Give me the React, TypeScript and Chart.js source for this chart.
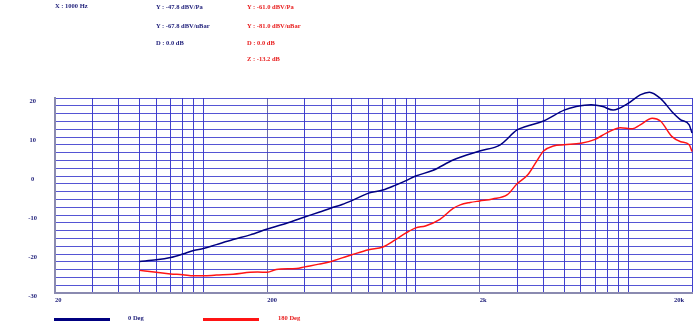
import React, { useEffect, useRef } from 'react';
import { Chart, registerables } from 'chart.js';

Chart.register(...registerables);

// ---- data ----
const FREQ_0 = [50, 60, 70, 80, 90, 100, 115, 138, 166, 200, 250, 300, 350, 400, 450, 500, 600, 700, 800, 900, 1000, 1200, 1500, 1620, 2000, 2500, 3000, 3300, 4000, 5000, 5700, 6700, 7600, 8500, 10000, 11400, 12600, 14200, 16100, 17700, 19400, 20000];
const DB_0 = [-21.9, -21.5, -20.9, -20.0, -19.1, -18.6, -17.6, -16.3, -15.1, -13.6, -12.0, -10.5, -9.3, -8.2, -7.3, -6.3, -4.4, -3.6, -2.4, -1.2, 0.0, 1.4, 4.1, 4.8, 6.4, 8.0, 11.8, 12.7, 14.1, 16.9, 17.8, 18.3, 17.8, 16.9, 18.6, 20.8, 21.5, 19.9, 16.5, 14.4, 13.1, 11.0];

const FREQ_180 = [50, 60, 70, 80, 90, 100, 115, 138, 166, 180, 200, 220, 275, 300, 350, 400, 450, 500, 600, 700, 800, 900, 1000, 1110, 1300, 1500, 1620, 1800, 2000, 2300, 2700, 3000, 3370, 3700, 4000, 4450, 5000, 6000, 7000, 7900, 9200, 10500, 11400, 13000, 14200, 16100, 17700, 19400, 20000];
const DB_180 = [-24.2, -24.7, -25.1, -25.3, -25.6, -25.6, -25.4, -25.2, -24.7, -24.6, -24.7, -24.0, -23.7, -23.3, -22.6, -21.9, -21.0, -20.2, -18.9, -18.2, -16.4, -14.6, -13.3, -12.8, -11.1, -8.3, -7.4, -6.8, -6.4, -5.9, -4.8, -2.0, 0.3, 3.7, 6.4, 7.7, 8.0, 8.4, 9.4, 11.0, 12.4, 12.1, 13.1, 14.8, 14.1, 10.1, 8.8, 8.0, 6.3];

const SERIES_NAMES = ['0 Deg', '180 Deg'];

const X_GRID = [20, 30, 40, 50, 60, 70, 80, 90, 100, 200, 300, 400, 500, 600, 700, 800, 900, 1000, 2000, 3000, 4000, 5000, 6000, 7000, 8000, 9000, 10000, 20000];
const X_LABEL_VALUES = [20, 200, 2000, 20000];
const X_LABEL_TEXT = ['20', '200', '2k', '20k'];
const X_DECADE_LINES = [200, 2000];

const Y_MIN = -30;
const Y_MAX = 20;
const Y_STEP = 2;
const Y_LABEL_EVERY = 10;

const CURSOR_X = ['X : 1000 Hz'];
const CURSOR_0 = ['Y : -47.8 dBV/Pa', 'Y : -67.8 dBV/uBar', 'D : 0.0 dB'];
const CURSOR_180 = ['Y : -61.0 dBV/Pa', 'Y : -81.0 dBV/uBar', 'D : 0.0 dB', 'Z : -13.2 dB'];

const BLUE = '#000080';
const RED = '#ff1414';
const TEXT_BLUE = '#1c1c78';
const TEXT_RED = '#e81c1c';
const FONT = '"Liberation Serif", "Times New Roman", serif';

const lastLabelRight = {
  id: 'lastLabelRight',
  beforeDraw(chart: any) {
    const s = chart.scales.x;
    const items = s.getLabelItems();
    items.forEach((it: any) => {
      if (it.label === X_LABEL_TEXT[X_LABEL_TEXT.length - 1]) {
        it.options.textAlign = 'right';
        it.options.translation = [s.right - 8, it.options.translation[1]];
      }
    });
  },
};

function TextLine(props: { x: number; cy: number; color: string; text: string }) {
  return (
    <div
      style={{
        position: 'absolute',
        left: props.x,
        top: props.cy - 4,
        height: 8,
        lineHeight: '8px',
        fontSize: 6.5,
        fontWeight: 'bold',
        fontFamily: FONT,
        color: props.color,
        whiteSpace: 'nowrap',
      }}
    >
      {props.text}
    </div>
  );
}

export default function App() {
  const ref = useRef<HTMLCanvasElement | null>(null);

  useEffect(() => {
    if (!ref.current) return;
    const tickFont = { family: FONT, size: 6.5, weight: 'bold' as const };
    const chart = new Chart(ref.current, {
      type: 'line',
      data: {
        datasets: [
          {
            label: SERIES_NAMES[0],
            data: FREQ_0.map((f, i) => ({ x: f, y: DB_0[i] })),
            borderColor: BLUE,
            borderWidth: 1.5,
            pointRadius: 0,
            cubicInterpolationMode: 'monotone',
            clip: false as any,
          },
          {
            label: SERIES_NAMES[1],
            data: FREQ_180.map((f, i) => ({ x: f, y: DB_180[i] })),
            borderColor: RED,
            borderWidth: 1.5,
            pointRadius: 0,
            cubicInterpolationMode: 'monotone',
            clip: false as any,
          },
        ],
      },
      options: {
        animation: false,
        responsive: false,
        events: [],
        layout: { padding: { left: 0, top: 98, right: 8, bottom: 0 } },
        plugins: { legend: { display: false }, tooltip: { enabled: false } },
        scales: {
          x: {
            type: 'logarithmic',
            min: X_GRID[0],
            max: X_GRID[X_GRID.length - 1],
            afterBuildTicks: (s: any) => {
              s.ticks = X_GRID.map((v) => ({ value: v }));
            },
            afterFit: (s: any) => {
              s.height = 40;
              s.paddingLeft = 0;
              s.paddingRight = 0;
            },
            grid: {
              drawTicks: false,
              color: (c: any) => (X_DECADE_LINES.includes(c.tick?.value) ? '#6c6ca8' : 'rgba(45,45,200,0.9)'),
              lineWidth: 1,
            },
            border: { color: '#8a8ab0', width: 2 },
            ticks: {
              autoSkip: false,
              maxRotation: 0,
              align: 'start',
              padding: 3,
              color: TEXT_BLUE,
              font: tickFont,
              callback: (v: any) => {
                const idx = X_LABEL_VALUES.indexOf(Number(v));
                return idx >= 0 ? X_LABEL_TEXT[idx] : '';
              },
            },
          },
          y: {
            type: 'linear',
            min: Y_MIN,
            max: Y_MAX,
            afterFit: (s: any) => {
              s.width = 55;
              s.paddingTop = 0;
              s.paddingBottom = 0;
            },
            grid: { drawTicks: false, color: 'rgba(55,55,205,0.85)', lineWidth: 1 },
            border: { color: '#8a8ab0', width: 2 },
            ticks: {
              stepSize: Y_STEP,
              autoSkip: false,
              crossAlign: 'center',
              padding: 18,
              labelOffset: 3,
              color: TEXT_BLUE,
              font: tickFont,
              callback: (v: any) => (Number(v) % Y_LABEL_EVERY === 0 ? String(v) : ''),
            },
          },
        },
      } as any,
      plugins: [lastLabelRight],
    });
    return () => chart.destroy();
  }, []);

  return (
    <div style={{ position: 'fixed', left: 0, top: 0, width: 700, height: 333, background: '#fff' }}>
      <canvas ref={ref} width={700} height={333} style={{ position: 'absolute', left: 0, top: 0 }} />
      <TextLine x={55} cy={6} color={TEXT_BLUE} text={CURSOR_X[0]} />
      <TextLine x={156} cy={6.5} color={TEXT_BLUE} text={CURSOR_0[0]} />
      <TextLine x={156} cy={26} color={TEXT_BLUE} text={CURSOR_0[1]} />
      <TextLine x={156} cy={43} color={TEXT_BLUE} text={CURSOR_0[2]} />
      <TextLine x={247} cy={6.5} color={TEXT_RED} text={CURSOR_180[0]} />
      <TextLine x={247} cy={26} color={TEXT_RED} text={CURSOR_180[1]} />
      <TextLine x={247} cy={43} color={TEXT_RED} text={CURSOR_180[2]} />
      <TextLine x={247} cy={58.5} color={TEXT_RED} text={CURSOR_180[3]} />
      <div style={{ position: 'absolute', left: 54, top: 318, width: 56, height: 2.5, background: BLUE }} />
      <TextLine x={128} cy={318} color={TEXT_BLUE} text={SERIES_NAMES[0]} />
      <div style={{ position: 'absolute', left: 203, top: 318, width: 56, height: 2.5, background: RED }} />
      <TextLine x={278} cy={318} color={TEXT_RED} text={SERIES_NAMES[1]} />
    </div>
  );
}
